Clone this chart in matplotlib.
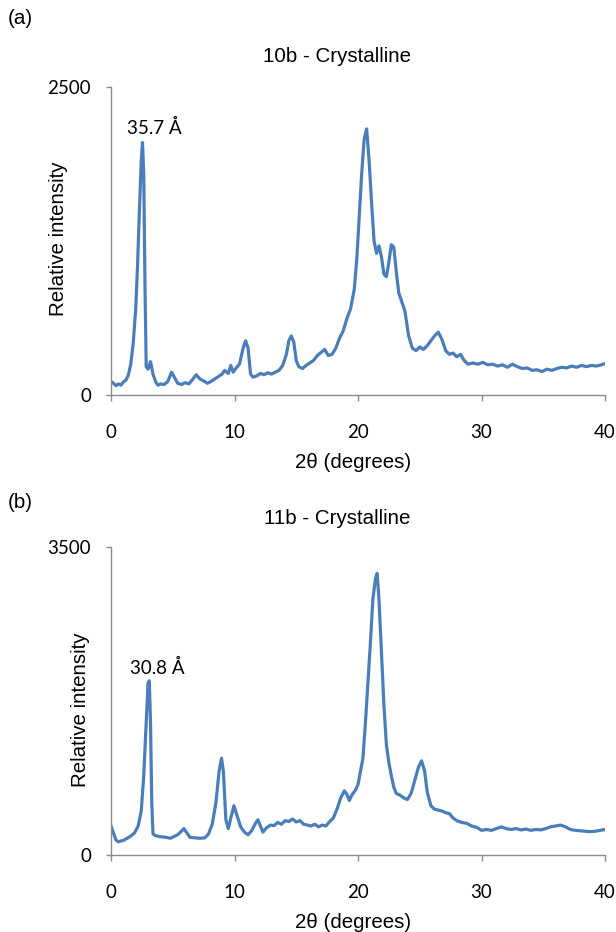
import matplotlib
matplotlib.use("Agg")
import matplotlib.pyplot as plt

plt.rcParams['font.family'] = ['Liberation Sans', 'DejaVu Sans']

# ---------------- data ----------------
x_ticks = [0, 10, 20, 30, 40]

a_title = "10b - Crystalline"
a_ymax = 2500
a_peak_label = "35.7 Å"
a_two_theta = [0, 0.2, 0.4, 0.6, 0.8, 1.0, 1.2, 1.4, 1.6, 1.8,
               2.0, 2.15, 2.3, 2.45, 2.55, 2.65, 2.75, 2.85, 3.0, 3.2,
               3.4, 3.6, 3.8, 4.0, 4.3, 4.6, 4.9, 5.1, 5.4, 5.7,
               6.0, 6.3, 6.6, 6.9, 7.2, 7.5, 7.8, 8.1, 8.4, 8.7,
               9.0, 9.2, 9.5, 9.7, 9.9, 10.1, 10.4, 10.7, 10.9, 11.1,
               11.3, 11.5, 11.8, 12.1, 12.4, 12.7, 13.0, 13.3, 13.6, 13.9,
               14.2, 14.4, 14.6, 14.8, 15.0, 15.2, 15.5, 15.8, 16.1, 16.4,
               16.7, 17.0, 17.3, 17.6, 17.9, 18.2, 18.5, 18.8, 19.1, 19.4,
               19.7, 19.9, 20.1, 20.3, 20.5, 20.7, 20.9, 21.1, 21.3, 21.5,
               21.7, 21.9, 22.1, 22.3, 22.5, 22.7, 22.9, 23.1, 23.3, 23.5,
               23.8, 24.1, 24.4, 24.7, 25.0, 25.3, 25.6, 25.9, 26.2, 26.5,
               26.8, 27.1, 27.4, 27.7, 28.0, 28.3, 28.6, 28.9, 29.3, 29.7,
               30.1, 30.5, 30.9, 31.3, 31.7, 32.1, 32.5, 32.9, 33.3, 33.7,
               34.1, 34.5, 34.9, 35.3, 35.7, 36.1, 36.5, 36.9, 37.3, 37.7,
               38.1, 38.5, 38.9, 39.3, 39.7, 40.0]
a_intensity = [110, 95, 75, 90, 80, 105, 120, 160, 250, 420,
               700, 1050, 1500, 1900, 2050, 1800, 900, 230, 210, 270,
               170, 110, 80, 90, 85, 110, 185, 150, 95, 85,
               100, 90, 125, 165, 130, 115, 95, 110, 130, 150,
               170, 200, 175, 240, 185, 215, 250, 380, 440, 380,
               170, 145, 155, 175, 165, 180, 170, 185, 200, 240,
               330, 440, 480, 430, 280, 230, 215, 240, 260, 280,
               320, 345, 370, 320, 330, 380, 460, 520, 620, 700,
               860, 1100, 1450, 1800, 2080, 2160, 1900, 1560, 1250, 1150,
               1210, 1120, 980, 960, 1080, 1220, 1200, 1000, 830, 770,
               680, 480, 380, 360, 390, 370, 400, 440, 480, 510,
               450, 360, 330, 340, 310, 330, 280, 250, 260, 250,
               265, 245, 250, 235, 245, 225, 250, 230, 215, 220,
               200, 205, 190, 210, 200, 215, 225, 220, 235, 225,
               240, 230, 240, 235, 245, 255]

b_title = "11b - Crystalline"
b_ymax = 3500
b_peak_label = "30.8 Å"
b_two_theta = [0, 0.2, 0.4, 0.6, 0.8, 1.0, 1.3, 1.6, 1.9, 2.2,
               2.45, 2.65, 2.85, 3.0, 3.1, 3.2, 3.3, 3.4, 3.6, 3.9,
               4.2, 4.5, 4.8, 5.1, 5.4, 5.7, 5.9, 6.1, 6.4, 6.8,
               7.2, 7.6, 7.9, 8.2, 8.5, 8.75, 8.95, 9.1, 9.3, 9.5,
               9.7, 9.95, 10.2, 10.5, 10.8, 11.1, 11.4, 11.7, 11.9, 12.1,
               12.3, 12.6, 12.9, 13.2, 13.5, 13.8, 14.1, 14.4, 14.7, 15.0,
               15.3, 15.6, 15.9, 16.2, 16.5, 16.8, 17.1, 17.4, 17.7, 18.0,
               18.3, 18.6, 18.9, 19.1, 19.3, 19.5, 19.8, 20.0, 20.2, 20.4,
               20.6, 20.8, 21.0, 21.2, 21.4, 21.55, 21.7, 21.9, 22.1, 22.3,
               22.5, 22.7, 22.9, 23.1, 23.4, 23.7, 24.0, 24.3, 24.6, 24.9,
               25.15, 25.4, 25.6, 25.9, 26.2, 26.5, 26.8, 27.1, 27.4, 27.7,
               28.0, 28.4, 28.8, 29.2, 29.6, 30.0, 30.4, 30.8, 31.2, 31.6,
               32.0, 32.4, 32.8, 33.2, 33.6, 34.0, 34.4, 34.8, 35.2, 35.6,
               36.0, 36.4, 36.8, 37.2, 37.6, 38.0, 38.4, 38.8, 39.2, 39.6,
               40.0]
b_intensity = [330, 250, 170, 150, 160, 165, 190, 215, 250, 330,
               500, 900, 1500, 1950, 1980, 1500, 600, 240, 220, 210,
               205, 200, 190, 210, 230, 270, 300, 260, 200, 195,
               190, 195, 240, 350, 600, 950, 1100, 950, 400, 300,
               420, 560, 450, 320, 260, 230, 280, 360, 400, 330,
               260, 310, 340, 335, 370, 350, 390, 380, 410, 375,
               390, 350, 340, 330, 350, 320, 340, 330, 380, 420,
               520, 650, 730, 690, 620, 680, 740, 800, 950, 1100,
               1500, 1950, 2400, 2900, 3130, 3200, 2900, 2300, 1700, 1250,
               1050, 900, 770, 700, 680, 650, 630, 700, 850, 1000,
               1070, 950, 720, 560, 520, 510, 500, 480, 470, 420,
               390, 370, 360, 330, 315, 280, 290, 280, 300, 320,
               300, 290, 300, 285, 295, 280, 290, 285, 300, 320,
               330, 340, 320, 290, 280, 275, 270, 265, 270, 280,
               290]

# ---------------- figure ----------------
W, H = 616, 932
fig = plt.figure(figsize=(W / 100, H / 100), dpi=100)

line_color = '#4A7EBB'
spine_color = '#8C8C8C'
fs_text = 14.8          # Arial-like texts
fs_num = 13.5           # Calibri-like numbers
num_family = ['Lato', 'DejaVu Sans']

AX_L, AX_R = 111, 605
AX_W = AX_R - AX_L
AX_H = 308


def panel(top_px, tt, inten, ymax, title, label, peak_idx, tag, tag_y,
          ylab_x_px, ylab_y_px, title_y_px, ann_off):
    bottom_px = top_px + AX_H
    ax = fig.add_axes([AX_L / W, 1 - bottom_px / H, AX_W / W, AX_H / H])
    ax.plot(tt, inten, color=line_color, lw=2.3, solid_joinstyle='round')
    ax.set_xlim(0, 40)
    ax.set_ylim(0, ymax)
    ax.set_xticks(x_ticks)
    ax.set_yticks([0, ymax])
    for s in ('top', 'right'):
        ax.spines[s].set_visible(False)
    for s in ('left', 'bottom'):
        ax.spines[s].set_color(spine_color)
        ax.spines[s].set_linewidth(1.0)
    ax.tick_params(axis='both', colors=spine_color, labelcolor='black',
                   labelsize=fs_num, width=1.0, direction='out')
    ax.tick_params(axis='x', length=4.3, pad=16.5)
    ax.tick_params(axis='y', length=3.6, pad=10.8)
    for lab in ax.get_xticklabels() + ax.get_yticklabels():
        lab.set_family(num_family)
    ax.set_xlabel('2θ (degrees)', fontsize=fs_text)
    ax.xaxis.label.set_va('center')
    ax.xaxis.set_label_coords((353 - AX_L) / AX_W, -(67) / AX_H)
    ax.set_ylabel('Relative intensity', fontsize=fs_text)
    ax.yaxis.label.set_va('center')
    ax.yaxis.set_label_coords((ylab_x_px - AX_L) / AX_W,
                              (bottom_px - ylab_y_px) / AX_H)
    ax.text((337 - AX_L) / AX_W, (bottom_px - title_y_px) / AX_H, title,
            transform=ax.transAxes, ha='center', va='center',
            fontsize=fs_text)
    ax.annotate(label, xy=(tt[peak_idx], inten[peak_idx]),
                xytext=ann_off, textcoords='offset pixels',
                ha='center', va='baseline', fontsize=fs_num,
                family=num_family)
    fig.text(8 / W, 1 - tag_y / H, tag, fontsize=fs_text,
             ha='left', va='center')
    return ax


panel(87, a_two_theta, a_intensity, a_ymax, a_title, a_peak_label, 14,
      '(a)', 19, 58, 239, 57, (12, 8))
panel(547, b_two_theta, b_intensity, b_ymax, b_title, b_peak_label, 14,
      '(b)', 503, 80, 710, 518, (8, 7))

fig.savefig('out.png', dpi=100)
